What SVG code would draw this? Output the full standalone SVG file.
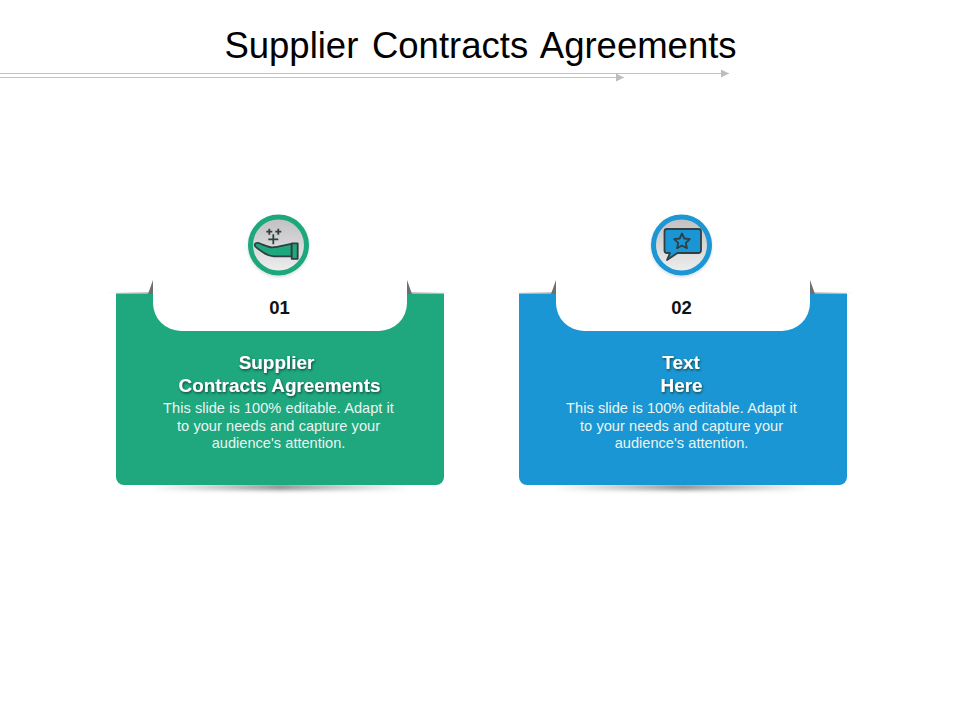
<svg xmlns="http://www.w3.org/2000/svg" width="960" height="720" viewBox="0 0 960 720">
<style>
text{font-family:"Liberation Sans",Arial,sans-serif;text-anchor:middle}
.title{font-size:36.5px;fill:#000;word-spacing:3.5px}
.num{font-size:18.5px;font-weight:bold;fill:#111}
.head{font-size:18.9px;font-weight:bold;fill:#fff;filter:url(#ts)}
.body{font-size:14.6px;fill:#e9f5f2;word-spacing:0.2px}
.ln{stroke:#c2c2c2;stroke-width:1.2;fill:none}
.ic{stroke:#2f3f44;stroke-width:1.8;stroke-linejoin:round}
</style>
<defs>
<marker id="ah" markerUnits="userSpaceOnUse" markerWidth="9" markerHeight="9" refX="8" refY="4.500" orient="auto"><path d="M0 0.500L8 4.500L0 8.500Z" fill="#bdbdbd"/></marker>
<filter id="ts" x="-10%" y="-20%" width="120%" height="150%"><feDropShadow dx="0.8" dy="1.300" stdDeviation="0.800" flood-color="#0a3a30" flood-opacity="0.9"/></filter>
<filter id="bl" x="-20%" y="-200%" width="140%" height="500%"><feGaussianBlur stdDeviation="2"/></filter>
<filter id="cs" x="-20%" y="-20%" width="140%" height="140%"><feDropShadow dx="0" dy="1.500" stdDeviation="1.500" flood-color="#000" flood-opacity="0.15"/></filter>
<linearGradient id="disc" x1="0" y1="0" x2="0" y2="1"><stop offset="0" stop-color="#bfbfbf"/><stop offset="1" stop-color="#efefef"/></linearGradient>
<linearGradient id="sh" x1="0" y1="0" x2="1" y2="0"><stop offset="0" stop-color="#777" stop-opacity="0"/><stop offset="0.5" stop-color="#666" stop-opacity="0.8"/><stop offset="1" stop-color="#777" stop-opacity="0"/></linearGradient>
<linearGradient id="edge" x1="0" y1="0" x2="1" y2="0"><stop offset="0" stop-color="#ccc" stop-opacity="0"/><stop offset="1" stop-color="#b5b5b5"/></linearGradient>
<linearGradient id="edge2" x1="0" y1="0" x2="1" y2="0"><stop offset="0" stop-color="#b5b5b5"/><stop offset="1" stop-color="#ccc" stop-opacity="0"/></linearGradient>
</defs>
<rect width="960" height="720" fill="#fff"/>
<text class="title" x="480.500" y="58">Supplier Contracts Agreements</text>
<g id="connectors">
<path class="ln" d="M0 73.500H729" marker-end="url(#ah)"/>
<path class="ln" d="M0 77.500H624" marker-end="url(#ah)"/>
</g>
<g id="node-01">
<rect x="150" y="484" width="260" height="6" fill="url(#sh)" filter="url(#bl)"/>
<rect x="106" y="292" width="50" height="1.500" fill="url(#edge)"/>
<rect x="404" y="292" width="48" height="1.500" fill="url(#edge2)"/>
<path d="M116 293.500H444V477a8 8 0 0 1-8 8H124a8 8 0 0 1-8-8Z" fill="#1fa77d"/>
<path d="M153 280L148 294H156Z M407 280L412 294H404Z" fill="#6f6f6f"/>
<path d="M153 280H407V303a28 28 0 0 1-28 28H181a28 28 0 0 1-28-28Z" fill="#fff"/>
<circle cx="278.500" cy="245" r="28" fill="url(#disc)" stroke="#1fa77d" stroke-width="5" filter="url(#cs)"/>
<path class="ic" d="M266.300 231.700h6M269.300 228.700v6M275.300 231.700h6M278.300 228.700v6M268.300 239.300h10M273.300 234.300v10" fill="none"/>
<path class="ic" d="M255.700 243.300c1.500-1 3-0.500 5 0.500c4 1.500 8 3.500 11.500 3.500c6 0 13-2.500 19.500-3.500v12.500h-18c-4 0-7-1.500-10-3.500c-3-2-7-4.500-8.500-6.500c-0.500-1-0.500-2.500 0.500-3Z" fill="#1fa77d"/>
<rect class="ic" x="291.700" y="243.300" width="6" height="15.500" fill="#1fa77d"/>
<text class="num" x="279.500" y="314">01</text>
<text class="head" x="276.500" y="369">Supplier</text>
<text class="head" x="279.500" y="392">Contracts Agreements</text>
<text class="body" x="278.500" y="413">This slide is 100% editable. Adapt it</text>
<text class="body" x="278.500" y="431">to your needs and capture your</text>
<text class="body" x="278.500" y="448">audience's attention.</text>
</g>
<g id="node-02">
<rect x="553" y="484" width="260" height="6" fill="url(#sh)" filter="url(#bl)"/>
<rect x="509" y="292" width="50" height="1.500" fill="url(#edge)"/>
<rect x="807" y="292" width="48" height="1.500" fill="url(#edge2)"/>
<path d="M519 293.500H847V477a8 8 0 0 1-8 8H527a8 8 0 0 1-8-8Z" fill="#1b96d4"/>
<path d="M556 280L551 294H559Z M810 280L815 294H807Z" fill="#6f6f6f"/>
<path d="M556 280H810V303a28 28 0 0 1-28 28H584a28 28 0 0 1-28-28Z" fill="#fff"/>
<circle cx="681.500" cy="245" r="28" fill="url(#disc)" stroke="#1b96d4" stroke-width="5" filter="url(#cs)"/>
<path class="ic" stroke-width="2" d="M667 229h31.500a2.500 2.500 0 0 1 2.500 2.500v19a2.500 2.500 0 0 1-2.500 2.500h-21l-10.500 7l3-7h-3a2.500 2.500 0 0 1-2.500-2.500v-19a2.500 2.500 0 0 1 2.500-2.500Z" fill="#1b96d4"/>
<path class="ic" d="M682 233.500l2.300 5l5.500 0.600l-4 3.700l1.100 5.400l-4.900-2.700l-4.900 2.700l1.100-5.400l-4-3.700l5.500-0.600Z" fill="#1b96d4"/>
<text class="num" x="681.500" y="314">02</text>
<text class="head" x="681" y="369">Text</text>
<text class="head" x="681.500" y="392">Here</text>
<text class="body" x="681.500" y="413">This slide is 100% editable. Adapt it</text>
<text class="body" x="681.500" y="431">to your needs and capture your</text>
<text class="body" x="681.500" y="448">audience's attention.</text>
</g>
</svg>
